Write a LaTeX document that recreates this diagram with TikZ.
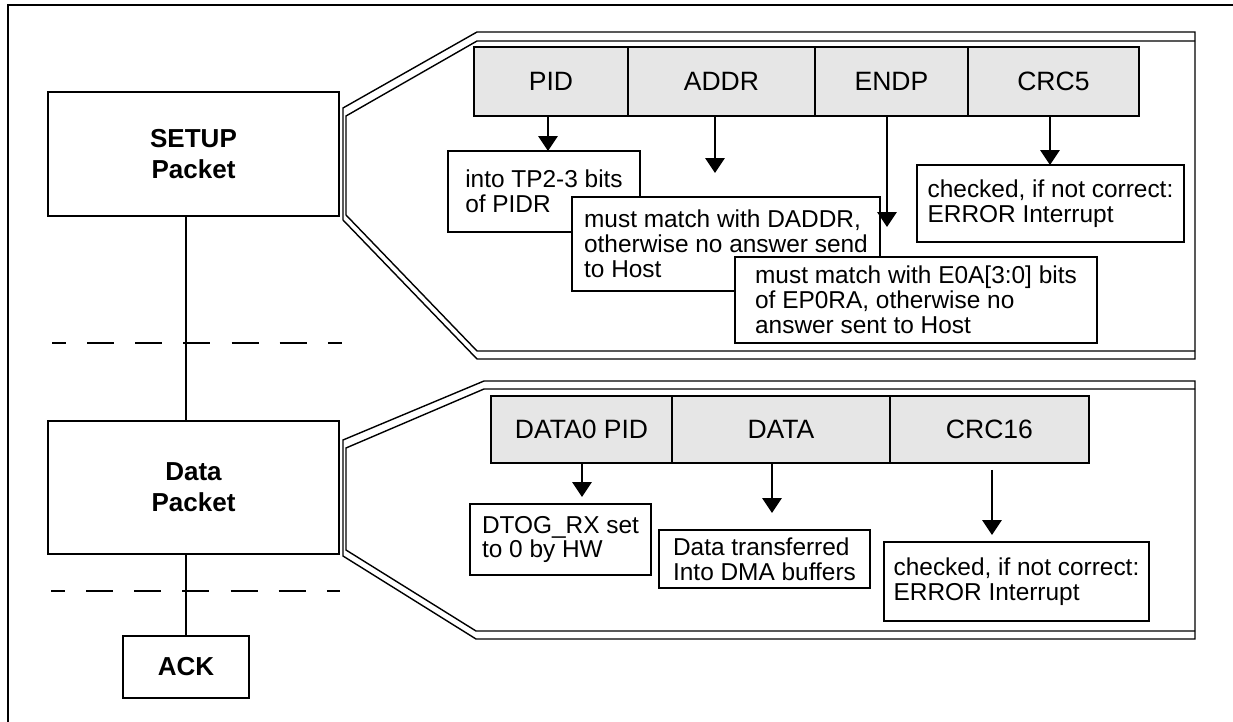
\documentclass[tikz,border=0pt]{standalone}
\usepackage{fontspec}
\setmainfont{Liberation Sans}
\usepackage{tikz}
\usetikzlibrary{arrows.meta,positioning}
\definecolor{fieldgray}{RGB}{230,230,230}
\tikzset{%
    packet/.style={draw, line width=1.1pt, align=center, outer sep=0pt,
        font=\fontsize{14.8}{17.5}\selectfont\bfseries},
    field/.style={draw, line width=1.1pt, fill=fieldgray, outer sep=0pt,
        font=\fontsize{15.1}{17}\selectfont},
    note/.style={draw, line width=1.1pt, fill=white, align=left, anchor=north west,
        outer sep=0pt, inner xsep=0pt, font=\fontsize{13.9}{14.2}\selectfont},
    callout/.style={line width=0.8pt, line join=miter},
    pointer/.style={->, line width=1.1pt},
    sepline/.style={line width=1pt, dash pattern=on 15.4pt off 12pt, dash phase=7.4pt}
}

\begin{document}
\begin{tikzpicture}[x=0.02cm, y=-0.02cm, >={Triangle[width=11pt,length=8.5pt]}]
    \useasboundingbox (0,0) rectangle (1233,722);
    \draw[line width=1.4pt] (8,722) -- (8,5) -- (1233,5);
%-----------------------------------------------
    \node[packet, minimum width=5.82cm, minimum height=2.48cm] (setup) at (193.5,154) {SETUP\\Packet};
    \node[packet, minimum width=5.82cm, minimum height=2.66cm] (datapkt) at (193.5,487.5) {Data\\Packet};
    \node[packet, minimum width=2.52cm, minimum height=1.24cm] (ack) at (186,667) {ACK};
    \draw[line width=1.1pt] (setup.south -| ack) -- (datapkt.north -| ack);
    \draw[line width=1.1pt] (datapkt.south -| ack) -- (ack.north);
    \draw[sepline] (52,343) -- (342,343);
    \draw[sepline] (51,591) -- (340,591);
%-----------------------------------------------
    \draw[callout] (1195,32) -- (477,32) -- (343,108) -- (343,220) -- (477,359) -- (1195,359) -- cycle;
    \draw[callout] (1195,41) -- (477,41) -- (346,116) -- (346,215) -- (477,351) -- (1195,351);
    \draw[callout] (1195,381) -- (484,381) -- (343,440) -- (343,556) -- (476,639) -- (1195,639) -- cycle;
    \draw[callout] (1195,389) -- (484,389) -- (346,448) -- (346,550) -- (476,631) -- (1195,631);
%-----------------------------------------------
    \node[field, minimum width=3.08cm, minimum height=1.38cm] (pid) at (551,81.5) {PID};
    \node[field, minimum width=3.74cm, minimum height=1.38cm, right=0pt of pid] (addr) {ADDR};
    \node[field, minimum width=3.06cm, minimum height=1.38cm, right=0pt of addr] (endp) {ENDP};
    \node[field, minimum width=3.42cm, minimum height=1.38cm, right=0pt of endp] (crc5) {CRC5};
%-----------------------------------------------
    \node[field, minimum width=3.62cm, minimum height=1.34cm] (d0pid) at (581.5,429.5) {DATA0 PID};
    \node[field, minimum width=4.36cm, minimum height=1.34cm, right=0pt of d0pid] (data) {DATA};
    \node[field, minimum width=3.98cm, minimum height=1.34cm, right=0pt of data] (crc16) {CRC16};
%-----------------------------------------------
    \node[note, minimum width=3.84cm, minimum height=1.62cm] (intotp) at (448,151) {into TP2-3 bits\\of PIDR};
    \node[note, minimum width=6.16cm, minimum height=1.88cm] (daddr) at (572,197) {must match with DADDR,\\otherwise no answer send\\to Host};
    \node[note, minimum width=7.24cm, minimum height=1.72cm] (eoa) at (735,257) {must match with E0A[3:0] bits\\of EP0RA, otherwise no\\answer sent to Host};
    \node[note, minimum width=5.34cm, minimum height=1.54cm] (crcchk) at (917,165) {checked, if not correct:\\ERROR Interrupt};
    \node[note, minimum width=3.62cm, minimum height=1.42cm] (dtog) at (470,504) {DTOG\_RX set\\to 0 by HW};
    \node[note, minimum width=4.22cm, minimum height=1.16cm] (dmabuf) at (659,530) {Data transferred\\Into DMA buffers};
    \node[note, minimum width=5.30cm, minimum height=1.58cm] (crcchkb) at (884,542) {checked, if not correct:\\ERROR Interrupt};
%-----------------------------------------------
    \coordinate (tpid) at (548,151);
    \coordinate (taddr) at (715,173);
    \coordinate (tendp) at (887,227);
    \coordinate (tcrc) at (1050,165);
    \coordinate (td0) at (582,497);
    \coordinate (tdata) at (772,513);
    \coordinate (tcrcb) at (992,535);
    \draw[pointer] (pid.south -| tpid) -- (tpid);
    \draw[pointer] (addr.south -| taddr) -- (taddr);
    \draw[pointer] (endp.south -| tendp) -- (tendp);
    \draw[pointer] (crc5.south -| tcrc) -- (tcrc);
    \draw[pointer] (d0pid.south -| td0) -- (td0);
    \draw[pointer] (data.south -| tdata) -- (tdata);
    \draw[pointer] ([yshift=-0.14cm]crc16.south -| tcrcb) -- (tcrcb);
\end{tikzpicture}
\end{document}
